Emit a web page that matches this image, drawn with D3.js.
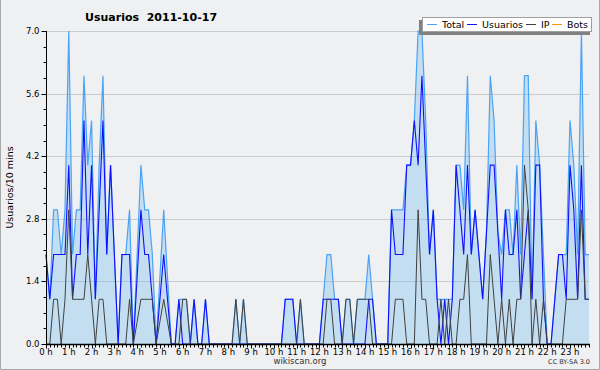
<!DOCTYPE html>
<html>
<head>
<meta charset="utf-8">
<script src="https://cdn.jsdelivr.net/npm/d3@7"></script>
<style>
  body { margin: 0; background: #eff0f2; }
  svg { display: block; }
  text { font-family: "DejaVu Sans", Verdana, sans-serif; }
</style>
</head>
<body>
<svg width="600" height="370"></svg>
<script>
// one value every 10 minutes, 144 slots for the day
const total = [
    2, 1, 3, 3, 2, 3, 7, 2, 3, 3, 6, 4, 5, 1, 4, 6, 2, 4, 2, 0, 2, 2, 3, 0,
    2, 4, 3, 3, 2, 0, 1.5, 3, 1.5, 0, 0, 1, 1, 1, 0, 1, 0, 0, 1, 0, 0, 0, 0, 0,
    0, 0, 1, 0, 1, 0, 0, 0, 0, 0, 0, 0, 0, 0, 0, 1, 1, 1, 0, 1, 0, 0, 0, 0,
    0, 1, 2, 2, 1, 1, 0, 1, 1, 0, 1, 1, 1, 2, 1, 0, 0, 0, 0, 3, 3, 3, 3, 4,
    4, 5, 7, 7, 5, 2, 3, 1, 1, 1, 1, 1, 4, 4, 3, 6, 2, 3, 2, 1, 2.5, 6, 5, 2.5,
    2, 3, 3, 2, 4, 2, 6, 6, 1, 5, 4, 2, 0, 0, 1, 2, 2, 2, 5, 4, 2, 7, 2, 2
];
const usuarios = [
    2, 1, 2, 2, 2, 2, 4, 1, 2, 2, 5, 2, 4, 1, 3, 5, 2, 4, 2, 0, 2, 2, 2, 0,
    1.5, 3, 2, 2, 1, 0, 1, 2, 1, 0, 0, 1, 0, 0, 0, 1, 0, 0, 1, 0, 0, 0, 0, 0,
    0, 0, 0, 0, 0, 0, 0, 0, 0, 0, 0, 0, 0, 0, 0, 1, 1, 1, 0, 0, 0, 0, 0, 0,
    0, 1, 1, 1, 1, 1, 0, 0, 0, 0, 0, 0, 0, 1, 1, 0, 0, 0, 0, 3, 2, 2, 2, 4,
    4, 5, 4, 6, 4, 2, 3, 1, 0, 1, 0, 1, 4, 3, 2, 4, 2, 3, 2, 1, 2.5, 4, 4, 2.5,
    1, 3, 2, 2, 3, 1, 2, 3, 1, 4, 4, 1, 0, 0, 1, 2, 2, 1, 4, 3, 1, 4, 1, 1
];
const ip = [
    0, 0, 1, 1, 0, 1, 3, 1, 1, 1, 1, 2, 1, 0, 1, 1, 0, 0, 0, 0, 0, 0, 1, 0,
    0.5, 1, 1, 1, 1, 0, 0.5, 1, 0.5, 0, 0, 0, 1, 1, 0, 0, 0, 0, 0, 0, 0, 0, 0, 0,
    0, 0, 1, 0, 1, 0, 0, 0, 0, 0, 0, 0, 0, 0, 0, 0, 0, 0, 0, 1, 0, 0, 0, 0,
    0, 0, 1, 1, 0, 0, 0, 1, 1, 0, 1, 1, 1, 1, 0, 0, 0, 0, 0, 0, 1, 1, 1, 0,
    0, 0, 3, 1, 1, 0, 0, 0, 1, 0, 1, 0, 0, 1, 1, 2, 0, 0, 0, 0, 0, 2, 1, 0,
    1, 0, 1, 0, 1, 1, 4, 3, 0, 1, 0, 1, 0, 0, 0, 0, 0, 1, 1, 1, 1, 3, 1, 1
];
const bots = total.map(() => 0);

const yTicks = [0, 1.4, 2.8, 4.2, 5.6, 7.0];
const hourLabels = d3.range(24).map(h => h + " h");
const legendNames = ["Total", "Usuarios", "IP", "Bots"];
const legendColors = ["#4aa3f5", "#1010ff", "#404040", "#ff9a00"];

const svg = d3.select("svg");
const plotLeft = 46, plotRight = 589, plotTop = 31, plotBottom = 344;

const x = d3.scaleLinear().domain([0, 143]).range([plotLeft, plotRight]);
const y = d3.scaleLinear().domain([0, 7]).range([plotBottom, plotTop]);

// frame of the picture
svg.append("rect").attr("width", 600).attr("height", 370).attr("fill", "#eff0f2");
svg.append("path")
    .attr("d", "M0.5,0 V369.5 H599.5 V0")
    .attr("fill", "none")
    .attr("stroke", "#a8a8a8");

// grid
svg.append("g")
    .selectAll("line")
    .data(yTicks.slice(1))
    .enter().append("line")
    .attr("x1", plotLeft).attr("x2", plotRight)
    .attr("y1", d => Math.round(y(d)) + 0.5)
    .attr("y2", d => Math.round(y(d)) + 0.5)
    .attr("stroke", "#cbcbcb");

// filled total
svg.append("path")
    .datum(total)
    .attr("d", d3.area().x((d, i) => x(i)).y0(y(0)).y1(d => y(d)))
    .attr("fill", "#6bb6ee")
    .attr("fill-opacity", 0.32);

const line = d3.line().x((d, i) => x(i)).y(d => y(d));
[[total, legendColors[0], 1.2], [usuarios, legendColors[1], 1.1], [ip, legendColors[2], 1]]
    .forEach(s => {
        svg.append("path")
            .datum(s[0])
            .attr("d", line)
            .attr("fill", "none")
            .attr("stroke", s[1])
            .attr("stroke-width", s[2]);
    });

// y axis
const yAxis = svg.append("g").attr("transform", "translate(" + (plotLeft + 0.5) + ",0)");
yAxis.append("line").attr("y1", plotTop).attr("y2", plotBottom).attr("stroke", "#000");
yAxis.selectAll(".minor")
    .data(d3.range(0, 7.01, 0.35))
    .enter().append("line")
    .attr("x1", -3).attr("x2", 0)
    .attr("y1", d => Math.round(y(d)) + 0.5)
    .attr("y2", d => Math.round(y(d)) + 0.5)
    .attr("stroke", "#000");
yAxis.selectAll(".major")
    .data(yTicks)
    .enter().append("line")
    .attr("x1", -5).attr("x2", 0)
    .attr("y1", d => Math.round(y(d)) + 0.5)
    .attr("y2", d => Math.round(y(d)) + 0.5)
    .attr("stroke", "#000");
yAxis.selectAll("text")
    .data(yTicks)
    .enter().append("text")
    .attr("x", -7)
    .attr("y", d => y(d) + 3)
    .attr("text-anchor", "end")
    .attr("font-size", 8.5)
    .text(d => d.toFixed(1));

// x axis
const xAxis = svg.append("g").attr("transform", "translate(0," + (plotBottom + 0.5) + ")");
xAxis.append("line").attr("x1", plotLeft).attr("x2", plotRight + 1).attr("stroke", "#000").attr("stroke-width", 1.5);
xAxis.selectAll(".tick")
    .data(d3.range(0, 144))
    .enter().append("line")
    .attr("x1", i => Math.round(x(i)) + 0.5)
    .attr("x2", i => Math.round(x(i)) + 0.5)
    .attr("y1", 0)
    .attr("y2", i => i % 6 === 0 ? 4 : 3)
    .attr("stroke", "#000");
xAxis.selectAll("text")
    .data(hourLabels)
    .enter().append("text")
    .attr("x", (d, h) => x(h * 6))
    .attr("y", 10)
    .attr("text-anchor", "middle")
    .attr("font-size", 8.5)
    .text(d => d);

// titles
svg.append("text")
    .attr("x", 85).attr("y", 21)
    .attr("font-size", 11)
    .attr("font-weight", "bold")
    .attr("xml:space", "preserve")
    .text("Usuarios  2011-10-17");
svg.append("text")
    .attr("transform", "translate(13," + ((plotTop + plotBottom) / 2) + ") rotate(-90)")
    .attr("text-anchor", "middle")
    .attr("font-family", "DejaVu Sans Mono")
    .attr("font-size", 9.5)
    .text("Usuarios/10 mins");
svg.append("text")
    .attr("x", 300).attr("y", 364)
    .attr("text-anchor", "middle")
    .attr("font-size", 8.5)
    .attr("fill", "#333")
    .text("wikiscan.org");
svg.append("text")
    .attr("x", 590).attr("y", 364)
    .attr("text-anchor", "end")
    .attr("font-size", 6.5)
    .attr("fill", "#333")
    .text("CC BY-SA 3.0");

// legend
const legend = svg.append("g");
legend.append("rect")
    .attr("x", 419).attr("y", 20).attr("width", 171).attr("height", 15)
    .attr("fill", "#808080");
legend.append("rect")
    .attr("x", 422.5).attr("y", 17.5).attr("width", 169).attr("height", 14)
    .attr("fill", "#fff")
    .attr("stroke", "#a0a0a0");
const legendX = [427, 467, 526, 552];
legendNames.forEach((name, k) => {
    legend.append("line")
        .attr("x1", legendX[k]).attr("x2", legendX[k] + 10)
        .attr("y1", 24.5).attr("y2", 24.5)
        .attr("stroke", legendColors[k]);
    legend.append("text")
        .attr("x", legendX[k] + 15).attr("y", 28)
        .attr("font-size", 9.5)
        .text(name);
});
</script>
</body>
</html>
